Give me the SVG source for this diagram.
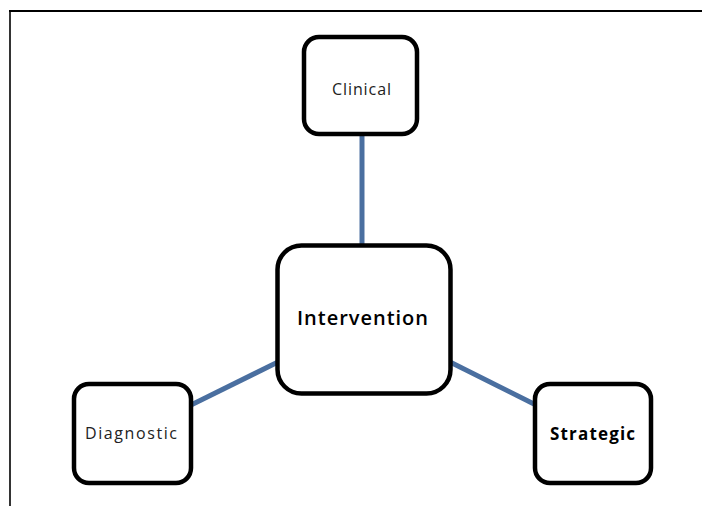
<svg xmlns="http://www.w3.org/2000/svg" width="702" height="506" viewBox="0 0 702 506">
<style>
.box{fill:#fff;stroke:#000;stroke-width:4.5}
.conn{stroke:#4a6fa0;stroke-width:5;fill:none}
.t{font-family:"Open Sans","Liberation Sans",Arial,sans-serif;fill:#000;text-anchor:middle}
.thin{font-size:16px;fill:#222}
</style>
<rect width="702" height="506" fill="#fff"/>
<g id="frame" stroke="#000" fill="none">
<line x1="9" y1="11" x2="702" y2="11" stroke-width="2"/>
<line x1="10" y1="10" x2="10" y2="506" stroke-width="1.6"/>
</g>
<g id="connectors">
<line class="conn" x1="362" y1="134" x2="362" y2="245"/>
<line class="conn" x1="191" y1="405" x2="278" y2="362"/>
<line class="conn" x1="450" y1="362" x2="536" y2="405"/>
</g>
<g id="clinical">
<rect class="box" x="304" y="37" width="113" height="97" rx="15"/>
<text class="t thin" x="361.5" y="95" textLength="59" lengthAdjust="spacing">Clinical</text>
</g>
<g id="intervention">
<rect class="box" x="277.5" y="245.5" width="173" height="148" rx="24" stroke-width="5"/>
<text class="t" x="362.5" y="325" font-size="20" font-weight="600" textLength="131" lengthAdjust="spacing">Intervention</text>
</g>
<g id="diagnostic">
<rect class="box" x="74" y="384" width="117" height="99" rx="15"/>
<text class="t thin" x="131" y="439" textLength="92" lengthAdjust="spacing">Diagnostic</text>
</g>
<g id="strategic">
<rect class="box" x="535" y="384" width="116" height="99" rx="15"/>
<text class="t" x="592.5" y="440" font-size="17" font-weight="bold" textLength="85" lengthAdjust="spacing">Strategic</text>
</g>
</svg>
